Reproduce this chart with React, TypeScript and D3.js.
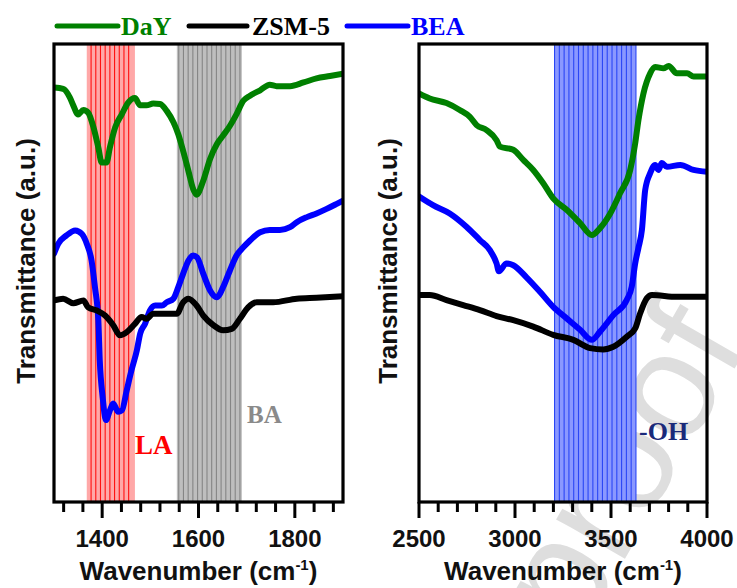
import React from 'react';
import * as d3 from 'd3';

type Pt = [number, number];

// ---------- data (wavenumber cm-1, transmittance a.u.) ----------
const leftDaY: Pt[] = [
  [1300, 90.5], [1319, 90.2], [1333, 88.3], [1340, 86.6], [1350, 84.6], [1361, 85.6], [1371, 85.0],
  [1382, 81.8], [1392, 77.4], [1399, 74.1], [1409, 74.1], [1416, 77.4], [1427, 81.8], [1441, 84.7],
  [1454, 87.2], [1468, 88.2], [1479, 86.6], [1492, 86.6], [1506, 87.0], [1520, 86.9], [1534, 85.4],
  [1548, 82.9], [1558, 80.3], [1568, 76.7], [1579, 72.3], [1589, 68.3], [1596, 67.1], [1610, 70.2],
  [1624, 74.9], [1638, 78.1], [1651, 80.0], [1665, 82.1], [1679, 84.7], [1693, 87.6], [1707, 88.7],
  [1728, 89.9], [1748, 91.1], [1762, 90.8], [1790, 90.8], [1818, 91.6], [1845, 92.5], [1873, 93.0],
  [1900, 93.5],
];
const leftBEA: Pt[] = [
  [1300, 54.2], [1309, 56.4], [1326, 58.2], [1344, 59.3], [1358, 58.5], [1368, 56.4], [1378, 52.7],
  [1385, 46.9], [1392, 39.7], [1395, 30.9], [1401, 22.9], [1408, 17.9], [1415, 19.7], [1423, 21.5],
  [1433, 19.7], [1441, 20.0], [1451, 24.4], [1461, 28.8], [1472, 33.1], [1479, 36.8], [1489, 38.9],
  [1499, 41.8], [1510, 42.9], [1524, 42.9], [1534, 43.6], [1548, 44.4], [1558, 46.9], [1568, 49.8],
  [1579, 52.7], [1589, 53.8], [1597, 53.4], [1610, 49.8], [1624, 46.2], [1638, 44.7], [1651, 46.9],
  [1665, 50.5], [1679, 53.8], [1693, 55.6], [1707, 57.1], [1728, 58.9], [1748, 59.4], [1769, 59.4],
  [1790, 60.0], [1804, 61.1], [1825, 62.2], [1845, 63.0], [1866, 64.0], [1887, 65.1], [1900, 65.8],
];
const leftZSM: Pt[] = [
  [1300, 44.0], [1319, 44.4], [1340, 43.4], [1361, 44.0], [1371, 42.5], [1389, 41.8], [1406, 40.7],
  [1423, 38.6], [1437, 36.4], [1451, 37.1], [1468, 38.9], [1482, 40.4], [1492, 40.0], [1506, 41.1],
  [1520, 41.1], [1555, 41.1], [1568, 43.6], [1579, 44.4], [1596, 42.9], [1610, 40.7], [1631, 38.6],
  [1651, 37.5], [1669, 37.8], [1686, 40.0], [1703, 42.5], [1721, 43.6], [1755, 43.6], [1804, 44.4],
  [1845, 44.6], [1900, 44.9],
];
const rightDaY: Pt[] = [
  [2500, 89.2], [2556, 88.1], [2643, 87.1], [2712, 85.6], [2765, 84.1], [2800, 82.3], [2852, 81.2],
  [2904, 79.0], [2921, 77.6], [2991, 76.9], [3043, 74.7], [3095, 72.5], [3147, 69.6], [3199, 66.3],
  [3269, 63.8], [3339, 60.9], [3400, 58.3], [3443, 59.8], [3496, 63.0], [3547, 67.4], [3600, 72.5],
  [3626, 78.3], [3643, 83.4], [3669, 89.2], [3704, 93.6], [3730, 95.0], [3773, 94.7], [3800, 95.2],
  [3843, 93.6], [3896, 93.6], [3930, 92.9], [4000, 92.9],
];
const rightBEA: Pt[] = [
  [2500, 66.7], [2573, 64.8], [2660, 63.0], [2747, 60.1], [2817, 57.2], [2869, 55.0], [2904, 52.1],
  [2916, 50.4], [2956, 52.1], [2991, 51.7], [3061, 49.0], [3130, 45.9], [3199, 42.6], [3269, 40.1],
  [3339, 37.6], [3400, 35.4], [3443, 37.2], [3512, 40.8], [3582, 44.1], [3608, 47.0], [3626, 52.1],
  [3643, 55.5], [3661, 59.4], [3678, 68.1], [3704, 71.8], [3730, 73.6], [3747, 72.5], [3765, 74.0],
  [3791, 73.2], [3861, 73.6], [3930, 72.5], [4000, 72.1],
];
const rightZSM: Pt[] = [
  [2500, 45.2], [2556, 45.2], [2643, 44.1], [2730, 43.0], [2817, 41.9], [2904, 40.6], [2991, 39.7],
  [3095, 38.3], [3199, 36.5], [3304, 35.4], [3391, 33.6], [3460, 33.3], [3512, 33.9], [3582, 36.1],
  [3626, 37.9], [3652, 41.2], [3687, 44.5], [3713, 45.2], [3843, 44.8], [4000, 44.8],
];

const seriesNames = ['DaY', 'ZSM-5', 'BEA'];
const leftDomain = [1300, 1900];
const rightDomain = [2500, 4000];
const leftMajorTicks = [1400, 1600, 1800];
const rightMajorTicks = [2500, 3000, 3500, 4000];
const leftMinorStep = 40;
const rightMinorStep = 100;

// shaded bands: [from, to], hatch line span [from, to], hatch count
const leftBands = [
  { key: 'LA', range: [1368, 1468], hatch: [1377, 1455], n: 9 },
  { key: 'BA', range: [1555, 1690], hatch: [1559, 1686], n: 14 },
];
const rightBands = [
  { key: 'OH', range: [3206, 3630], hatch: [3206, 3630], n: 18 },
];

const bandStyle: Record<string, { fill: string; line: string }> = {
  LA: { fill: '#ffa8a8', line: '#ff1010' },
  BA: { fill: '#bebebe', line: '#858585' },
  OH: { fill: '#8a98ff', line: '#2a46f5' },
};
const colors: Record<string, string> = { 'DaY': '#008000', 'ZSM-5': '#000000', 'BEA': '#0000ff' };

const W = 737, H = 588;
const Y0 = 44, Y1 = 502;
const yScale = d3.scaleLinear().domain([0, 100]).range([Y1, Y0]);

const sans = "'Liberation Sans', Arial, sans-serif";
const serif = "'Liberation Serif', 'Times New Roman', serif";

function Panel(props: {
  x0: number; x1: number; domain: number[]; major: number[]; minorStep: number;
  bands: { key: string; range: number[]; hatch: number[]; n: number }[];
  series: { name: string; data: Pt[] }[]; id: string; labelX: number;
}) {
  const { x0, x1, domain, major, minorStep, bands, series, id, labelX } = props;
  const xs = d3.scaleLinear().domain(domain).range([x0, x1]);
  const line = d3.line<Pt>().x(d => xs(d[0])).y(d => yScale(d[1])).curve(d3.curveMonotoneX);
  const first = Math.ceil(domain[0] / minorStep) * minorStep;
  const allTicks = d3.range(first, domain[1] + 0.001, minorStep).concat(major);
  const ticks = Array.from(new Set(allTicks)).sort((a, b) => a - b);
  const cx = (x0 + x1) / 2;
  return (
    <g>
      <defs>
        <clipPath id={id}>
          <rect x={x0} y={Y0} width={x1 - x0} height={Y1 - Y0} />
        </clipPath>
      </defs>
      {bands.map(b => {
        const st = bandStyle[b.key];
        const hl = d3.range(b.n).map(i => b.hatch[0] + (i * (b.hatch[1] - b.hatch[0])) / (b.n - 1));
        return (
          <g key={b.key}>
            <rect x={xs(b.range[0])} y={Y0} width={xs(b.range[1]) - xs(b.range[0])} height={Y1 - Y0} fill={st.fill} />
            {hl.map((h, i) => (
              <line key={i} x1={xs(h)} x2={xs(h)} y1={Y0} y2={Y1} stroke={st.line} strokeWidth={1.1} />
            ))}
          </g>
        );
      })}
      <g clipPath={`url(#${id})`}>
        {series.map(s => (
          <path key={s.name} d={line(s.data) || ''} fill="none" stroke={colors[s.name]} strokeWidth={6}
            strokeLinejoin="round" strokeLinecap="round" />
        ))}
      </g>
      <rect x={x0} y={Y0} width={x1 - x0} height={Y1 - Y0} fill="none" stroke="#000" strokeWidth={3.2} />
      {ticks.map(t => {
        const isMajor = major.includes(t);
        return (
          <line key={t} x1={xs(t)} x2={xs(t)} y1={Y1} y2={Y1 + (isMajor ? 16 : 10)} stroke="#000" strokeWidth={3} />
        );
      })}
      {major.map(t => (
        <text key={t} x={xs(t)} y={547} textAnchor="middle" fontFamily={sans} fontWeight="bold" fontSize={24} fill="#111">
          {t}
        </text>
      ))}
      <text x={cx} y={580} textAnchor="middle" fontFamily={sans} fontWeight="bold" fontSize={26} fill="#111">
        Wavenumber (cm<tspan dy={-10} fontSize={15}>-1</tspan><tspan dy={10}>)</tspan>
      </text>
      <text transform={`translate(${labelX},${(Y0 + Y1) / 2 - 12}) rotate(-90)`} textAnchor="middle"
        dominantBaseline="central" fontFamily={sans} fontWeight="bold" fontSize={26} fill="#111">
        Transmittance (a.u.)
      </text>
    </g>
  );
}

export default function App() {
  const legendItems = [
    { name: seriesNames[0], x1: 57, x2: 118, tx: 121 },
    { name: seriesNames[1], x1: 189, x2: 247, tx: 252 },
    { name: seriesNames[2], x1: 347, x2: 408, tx: 411 },
  ];
  return (
    <svg width={W} height={H} style={{ position: 'absolute', left: 0, top: 0, background: '#fff' }}>
      <rect x={0} y={0} width={W} height={H} fill="#fff" />
      <text transform="translate(578,640) rotate(-60)" fontFamily={sans} fontSize={150} fill="#dedede">proof</text>
      <Panel id="clipL" x0={54} x1={343} domain={leftDomain} major={leftMajorTicks} minorStep={leftMinorStep}
        bands={leftBands} labelX={26}
        series={[{ name: 'DaY', data: leftDaY }, { name: 'BEA', data: leftBEA }, { name: 'ZSM-5', data: leftZSM }]} />
      <Panel id="clipR" x0={419} x1={707} domain={rightDomain} major={rightMajorTicks} minorStep={rightMinorStep}
        bands={rightBands} labelX={388}
        series={[{ name: 'DaY', data: rightDaY }, { name: 'BEA', data: rightBEA }, { name: 'ZSM-5', data: rightZSM }]} />
      <text x={135} y={454} fontFamily={serif} fontWeight="bold" fontSize={27} fill="#ff0000">LA</text>
      <text x={247} y={423} fontFamily={serif} fontWeight="bold" fontSize={25} fill="#8a8a8a">BA</text>
      <text x={639} y={440} fontFamily={serif} fontWeight="bold" fontSize={26} fill="#1a2a7a">-OH</text>
      {legendItems.map(it => (
        <g key={it.name}>
          <line x1={it.x1} x2={it.x2} y1={26} y2={26} stroke={colors[it.name]} strokeWidth={5} strokeLinecap="round" />
          <text x={it.tx} y={35} fontFamily={serif} fontWeight="bold" fontSize={26} fill={colors[it.name]}>{it.name}</text>
        </g>
      ))}
    </svg>
  );
}
